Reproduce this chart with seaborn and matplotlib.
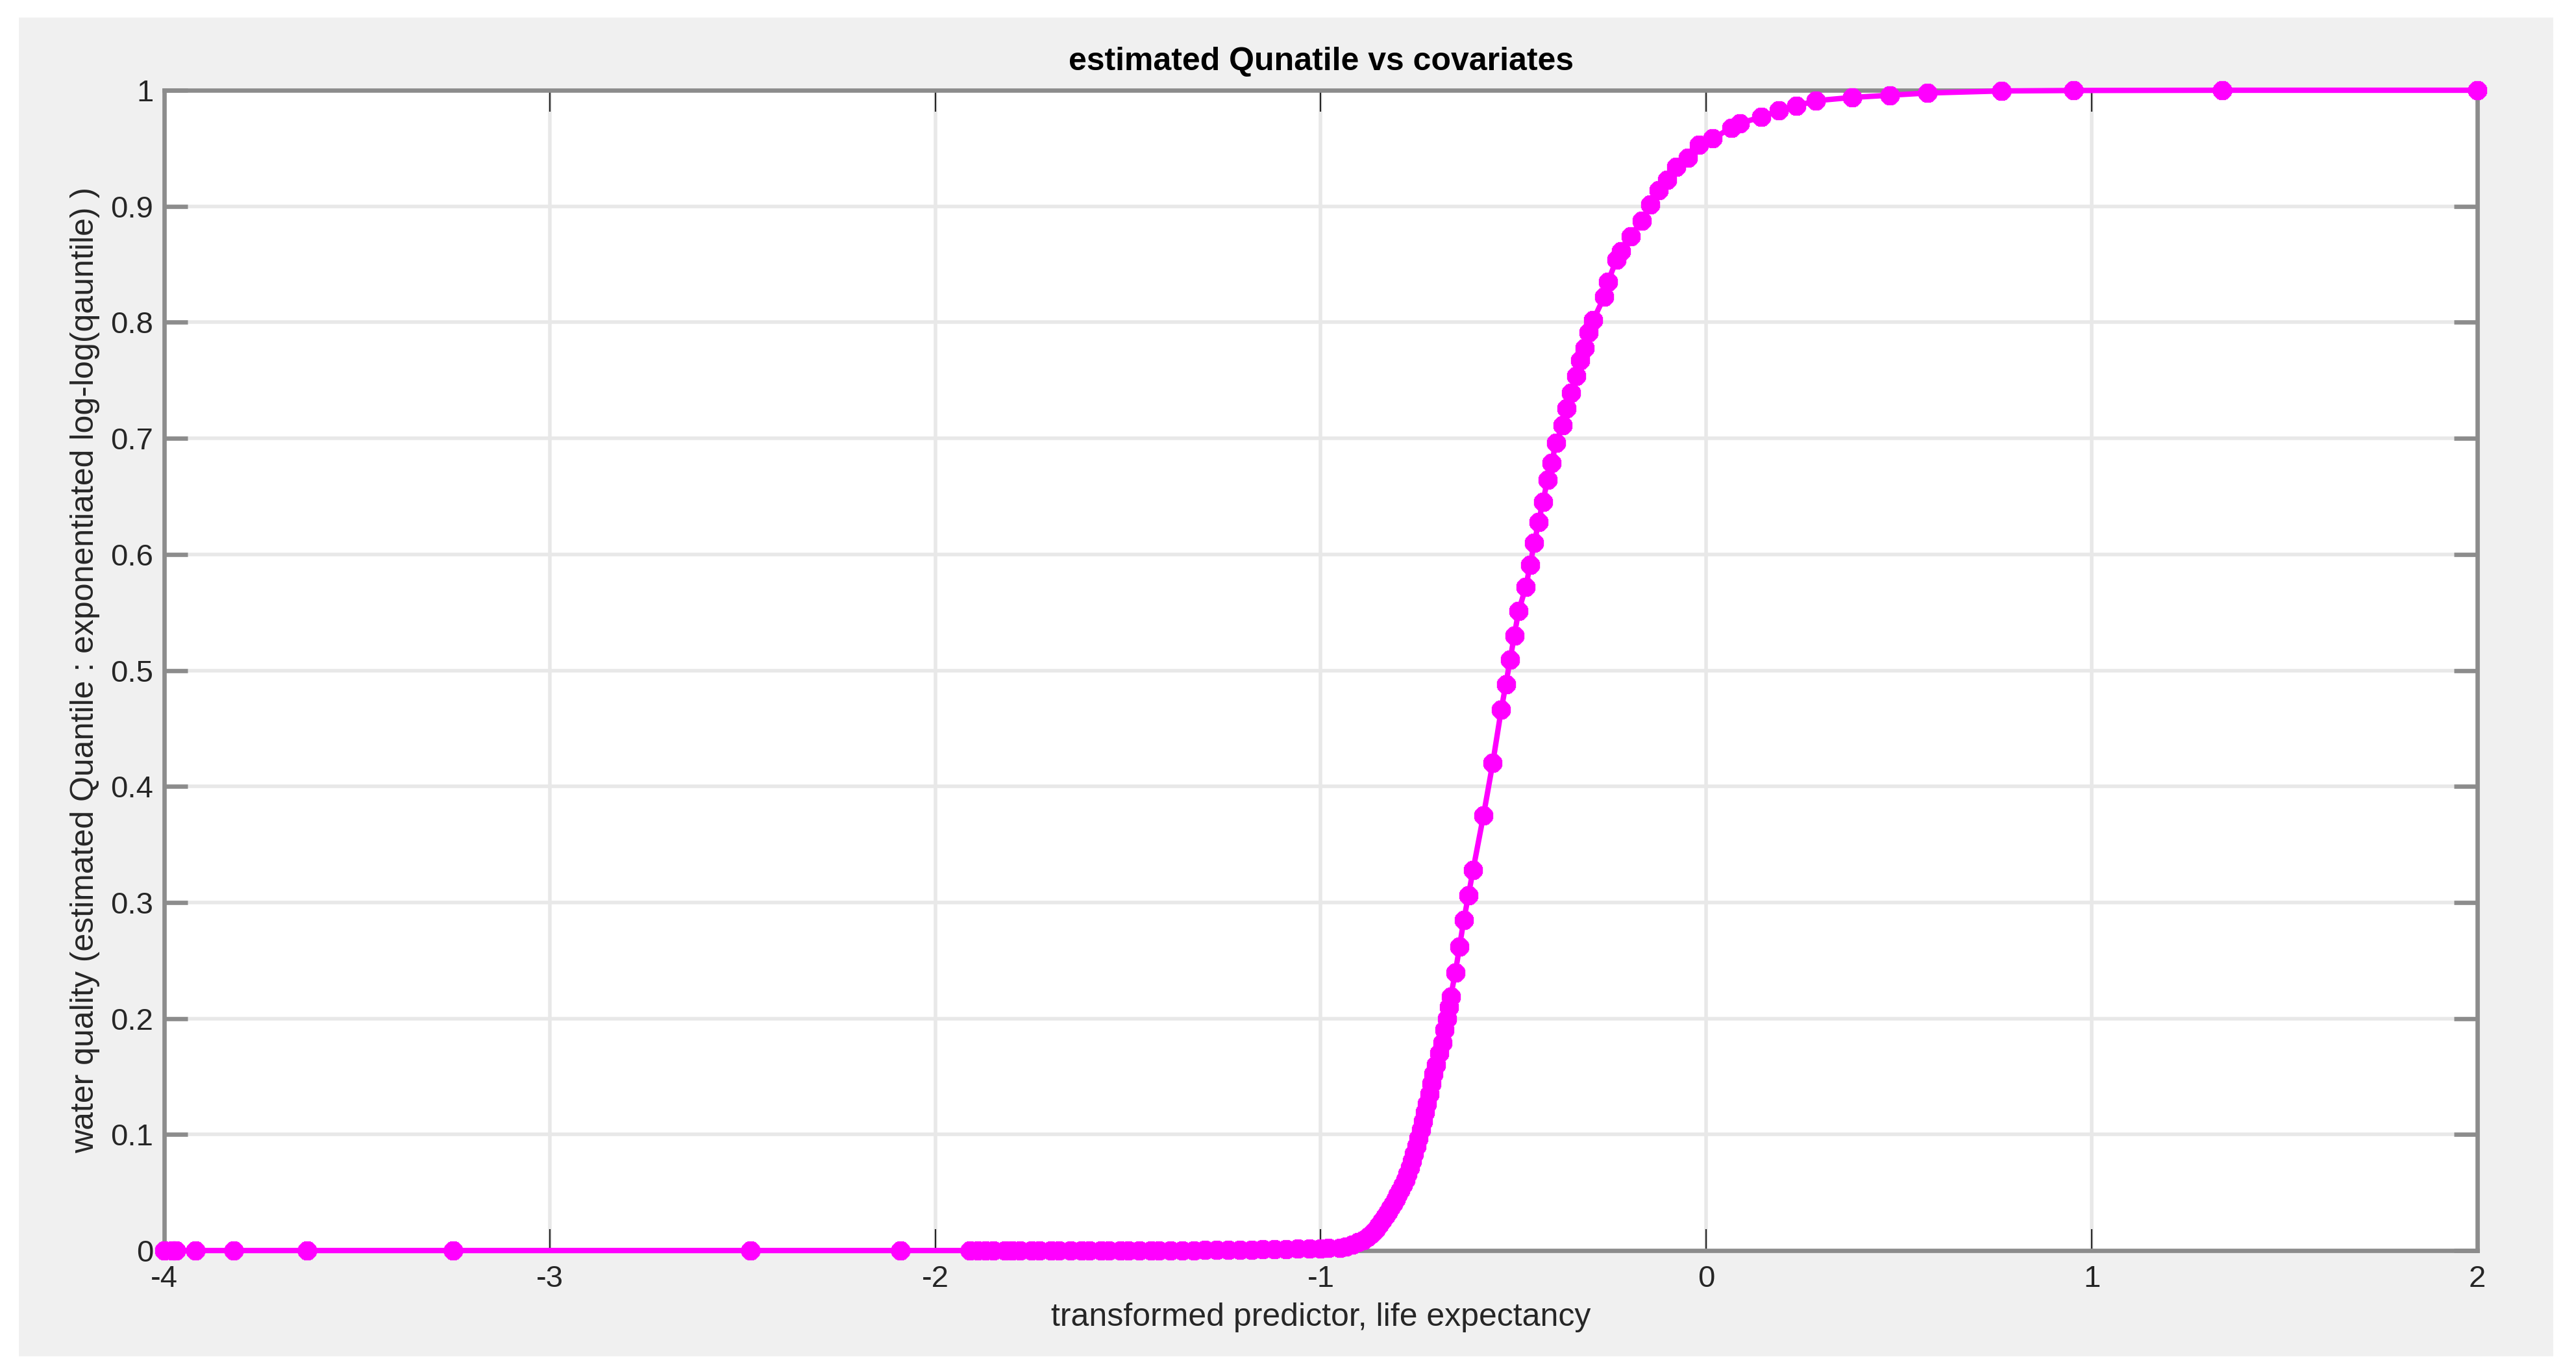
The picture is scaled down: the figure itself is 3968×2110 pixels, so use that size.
import matplotlib
matplotlib.use("Agg")
import matplotlib.pyplot as plt
from matplotlib.patches import Rectangle
import seaborn as sns
import pandas as pd

# values
x_vals = [-4.00, -3.98, -3.97, -3.92, -3.82, -3.63, -3.25, -2.48, -2.09,
          -1.91, -1.89, -1.87, -1.85, -1.82, -1.80, -1.78, -1.75, -1.73, -1.70,
          -1.68, -1.65, -1.62, -1.60, -1.57, -1.55, -1.52, -1.50, -1.47, -1.44,
          -1.42, -1.39, -1.36, -1.33, -1.30, -1.27, -1.24, -1.21, -1.18, -1.15,
          -1.12, -1.09, -1.06, -1.03, -1.00, -0.98,
          -0.951, -0.935, -0.918, -0.903, -0.889, -0.878, -0.867, -0.858, -0.850,
          -0.841, -0.833, -0.826, -0.819, -0.812, -0.805, -0.800, -0.794, -0.787,
          -0.780, -0.775, -0.769, -0.763, -0.758, -0.752, -0.746, -0.740, -0.735,
          -0.729, -0.724, -0.718, -0.713, -0.707, -0.701, -0.693, -0.685, -0.679,
          -0.673, -0.668, -0.663, -0.651, -0.640, -0.629, -0.617, -0.605, -0.578,
          -0.554, -0.532, -0.520, -0.509, -0.498, -0.487, -0.468, -0.457, -0.446,
          -0.435, -0.424, -0.412, -0.401, -0.390, -0.373, -0.362, -0.351, -0.338,
          -0.327, -0.316, -0.305, -0.293, -0.265, -0.255, -0.233, -0.222, -0.196,
          -0.168, -0.146, -0.123, -0.101, -0.078, -0.047, -0.019, 0.017, 0.065,
          0.087, 0.143, 0.188, 0.233, 0.284, 0.378, 0.476, 0.573, 0.765, 0.953,
          1.339, 2.000]

q_vals = [0.0, 0.0, 0.0, 0.0, 0.0, 0.0, 0.0, 0.0, 0.0,
          0.0, 0.0, 0.0, 0.0, 0.0, 0.0, 0.0, 0.0, 0.0, 0.0,
          0.0, 0.0, 0.0, 0.0, 0.0, 0.0, 0.0, 0.0, 0.0, 0.0,
          0.0, 0.0, 0.0, 0.0, 0.0003, 0.0004, 0.0005, 0.0006, 0.0008, 0.0009,
          0.0010, 0.0012, 0.0014, 0.0016, 0.0018, 0.0020,
          0.0024, 0.0035, 0.0052, 0.0070, 0.0090, 0.0115, 0.0145, 0.0180, 0.0220,
          0.0255, 0.0295, 0.0330, 0.0369, 0.0405, 0.0444, 0.0480, 0.0519, 0.0565,
          0.0612, 0.0660, 0.0714, 0.0770, 0.0836, 0.0900, 0.0966, 0.1040, 0.1115,
          0.1190, 0.1265, 0.1350, 0.1436, 0.1520, 0.1600, 0.1700, 0.1790, 0.1900,
          0.2000, 0.2100, 0.2190, 0.2395, 0.2620, 0.2850, 0.3060, 0.3280, 0.3750,
          0.4200, 0.4660, 0.4880, 0.5090, 0.5300, 0.5510, 0.5720, 0.5910, 0.6100,
          0.6280, 0.6450, 0.6640, 0.6790, 0.6960, 0.7110, 0.7260, 0.7390, 0.7540,
          0.7670, 0.7780, 0.7910, 0.8020, 0.8220, 0.8350, 0.8540, 0.8610, 0.8740,
          0.8875, 0.9015, 0.9136, 0.9230, 0.9340, 0.9416, 0.9528, 0.9584, 0.9677,
          0.9715, 0.9770, 0.9826, 0.9864, 0.9910, 0.9938, 0.9957, 0.9976, 0.9994, 0.9998,
          1.0, 1.0]

x_ticks = [-4, -3, -2, -1, 0, 1, 2]
x_tick_labels = ["-4", "-3", "-2", "-1", "0", "1", "2"]
y_ticks = [0, 0.1, 0.2, 0.3, 0.4, 0.5, 0.6, 0.7, 0.8, 0.9, 1]
y_tick_labels = ["0", "0.1", "0.2", "0.3", "0.4", "0.5", "0.6", "0.7", "0.8", "0.9", "1"]

df = pd.DataFrame({"x": x_vals, "q": q_vals})

sns.set_style("white")
plt.rcParams["font.family"] = ["Liberation Sans", "DejaVu Sans"]
plt.rcParams["axes.unicode_minus"] = False

W, H = 3968, 2110
fig = plt.figure(figsize=(W / 200, H / 200), dpi=200, facecolor="white")
# grey matlab-style panel
fig.patches.append(Rectangle((30 / W, 1 - 2087 / H), (3931 - 30) / W, (2087 - 28) / H,
                             transform=fig.transFigure, color="#f0f0f0", zorder=-1))

ax = fig.add_axes([253 / W, 1 - 1926 / H, (3816 - 253) / W, (1926 - 139) / H])
ax.set_facecolor("white")

sns.lineplot(data=df, x="x", y="q", ax=ax, sort=False, color="#ff00ff",
             linewidth=3, marker=(8, 2, 0), markersize=10.5, markeredgewidth=3.6,
             markeredgecolor="#ff00ff", clip_on=False, zorder=5)

ax.set_xlim(-4, 2)
ax.set_ylim(0, 1)
ax.set_xticks(x_ticks)
ax.set_xticklabels(x_tick_labels)
ax.set_yticks(y_ticks)
ax.set_yticklabels(y_tick_labels)

ax.grid(True, color="#e8e8e8", linewidth=2)
ax.set_axisbelow(True)

for s in ax.spines.values():
    s.set_color("#8c8c8c")
    s.set_linewidth(2.4)
    s.set_visible(True)

ax.tick_params(axis="x", which="both", direction="in", top=True, bottom=True,
               length=12, width=0.8, color="#262626", labelsize=17, pad=8,
               labelcolor="#262626")
ax.tick_params(axis="y", which="both", direction="in", left=True, right=True,
               length=13, width=2.4, color="#8c8c8c", labelsize=17, pad=6,
               labelcolor="#262626")

ax.set_title("estimated Qunatile vs covariates", fontsize=18, fontweight="bold",
             pad=11, color="black")
ax.set_xlabel("transformed predictor, life expectancy", fontsize=18, labelpad=5,
              color="#262626")
ax.set_ylabel("water quality (estimated Quantile : exponentiated log-log(qauntile) )",
              fontsize=18, labelpad=6, color="#262626")

fig.savefig("out.png", dpi=200, facecolor="white")
